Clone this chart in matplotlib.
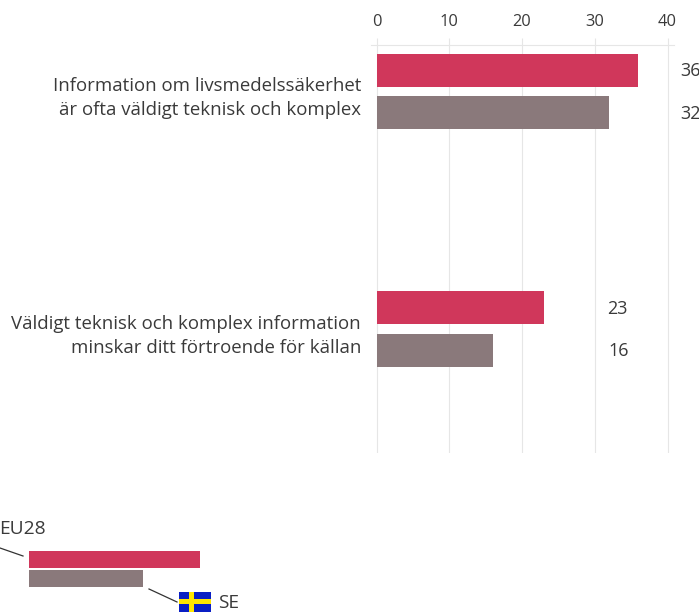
import matplotlib
matplotlib.use("Agg")
import matplotlib.pyplot as plt
from matplotlib.patches import Rectangle

W, H = 699, 612
FONT = "Open Sans"
plt.rcParams["font.family"] = [FONT, "DejaVu Sans"]

categories = ["Information om livsmedelssäkerhet\när ofta väldigt teknisk och komplex",
              "Väldigt teknisk och komplex information\nminskar ditt förtroende för källan"]
eu28 = [36, 23]
se = [32, 16]
ticks = [0, 10, 20, 30, 40]
series_names = ["EU28", "SE"]

RED, GREY, TXT, GRID = "#D0375B", "#8A797B", "#3A3A3A", "#E6E6E6"

fig = plt.figure(figsize=(W / 100, H / 100), dpi=100, facecolor="white")


def box(l, t, r, b):
    return [l / W, 1 - b / H, (r - l) / W, (b - t) / H]


ax = fig.add_axes(box(370.6, 45, 673.6, 453))
ax.set_xlim(-0.83, 40.83)
ax.set_ylim(1.522, -0.196)
off, h = 0.0895, 0.139
ypos = list(range(len(categories)))
ax.barh([y - off for y in ypos], eu28, height=h, color=RED, zorder=3)
ax.barh([y + off for y in ypos], se, height=h, color=GREY, zorder=3)

for s in ["left", "right", "bottom"]:
    ax.spines[s].set_visible(False)
ax.spines["top"].set_color(GRID)
ax.spines["top"].set_linewidth(0.8)
ax.xaxis.tick_top()
ax.set_xticks(ticks)
ax.tick_params(axis="x", length=5, width=0.8, color=GRID, labelcolor=TXT, labelsize=11.8, pad=6)
ax.tick_params(axis="y", length=0, labelleft=False)
ax.grid(axis="x", color=GRID, lw=0.8, zorder=0)
ax.set_axisbelow(True)
for lab in ax.get_xticklabels():
    lab.set_x(lab.get_position()[0])

for y, c in zip(ypos, categories):
    fig.text(361 / W, 1 - (98 if y == 0 else 336) / H, c, ha="right", va="center",
             fontsize=13.45, color=TXT, linespacing=1.37)

for (y, a, b) in zip(ypos, eu28, se):
    xa = 680 if y == 0 else 607
    xb = 680 if y == 0 else 608
    ya = 71.5 if y == 0 else 308.5
    yb = 114 if y == 0 else 351.5
    fig.text(xa / W, 1 - ya / H, str(a), ha="left", va="center", fontsize=13, color=TXT)
    fig.text(xb / W, 1 - yb / H, str(b), ha="left", va="center", fontsize=13, color=TXT)

# legend, in pixel coordinates
lg = fig.add_axes([0, 0, 1, 1], zorder=5)
lg.set_xlim(0, W)
lg.set_ylim(H, 0)
lg.axis("off")
lg.patch.set_alpha(0)
lg.add_patch(Rectangle((29, 551), 171, 17, color=RED, lw=0))
lg.add_patch(Rectangle((29, 570), 114, 17, color=GREY, lw=0))
lg.plot([0, 23], [548, 556], color="#333333", lw=0.9)
lg.plot([149, 177], [589, 602], color="#333333", lw=0.9)
lg.text(-1, 529, series_names[0], ha="left", va="center", fontsize=13.8, color=TXT)
lg.text(218, 603.5, series_names[1], ha="left", va="center", fontsize=13.8, color=TXT)
lg.add_patch(Rectangle((179, 592), 32, 20, color="#0A1FC4", lw=0))
lg.add_patch(Rectangle((179, 599), 32, 5, color="#FFE600", lw=0))
lg.add_patch(Rectangle((188.5, 592), 5.5, 20, color="#FFE600", lw=0))

fig.savefig("out.png", dpi=100, facecolor="white")
